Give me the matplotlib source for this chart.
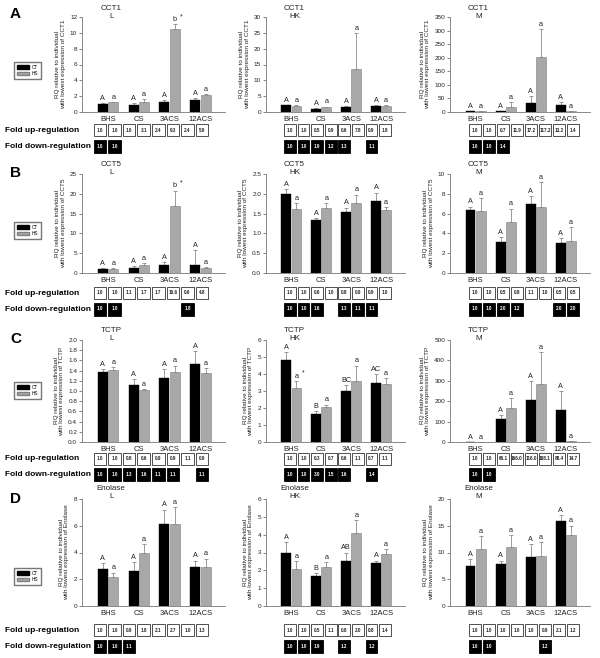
import matplotlib

matplotlib.use("Agg")
import matplotlib.pyplot as plt
import matplotlib.transforms as mtransforms
from matplotlib.patches import Patch, Rectangle
import numpy as np

plt.rcParams["font.family"] = ["Liberation Sans", "DejaVu Sans"]

W, H = 600, 658

GROUPS = ["BHS", "CS", "3ACS", "12ACS"]
GENES = ["CCT1", "CCT5", "TCTP", "Enolase"]
TISSUES = ["L", "HK", "M"]
ROW_LETTERS = ["A", "B", "C", "D"]

# ---- CCT1 ----
cct1_l_ct = [1.0, 0.9, 1.3, 1.5]
cct1_l_ct_err = [0.1, 0.25, 0.2, 0.25]
cct1_l_hs = [1.25, 1.3, 10.5, 2.2]
cct1_l_hs_err = [0.05, 0.3, 0.6, 0.1]
cct1_hk_ct = [2.2, 1.1, 1.6, 2.0]
cct1_hk_ct_err = [0.1, 0.1, 0.2, 0.2]
cct1_hk_hs = [1.9, 1.6, 13.5, 1.9]
cct1_hk_hs_err = [0.3, 0.1, 11.3, 0.2]
cct1_m_ct = [2, 3, 33, 25]
cct1_m_ct_err = [1, 2, 27, 13]
cct1_m_hs = [2, 20, 202, 2]
cct1_m_hs_err = [1, 17, 103, 1]

# ---- CCT5 ----
cct5_l_ct = [0.9, 1.3, 2.1, 1.9]
cct5_l_ct_err = [0.3, 0.5, 0.6, 3.8]
cct5_l_hs = [1.0, 2.0, 16.8, 1.2]
cct5_l_hs_err = [0.3, 0.6, 4.0, 0.2]
cct5_hk_ct = [2.0, 1.34, 1.55, 1.82]
cct5_hk_ct_err = [0.12, 0.05, 0.1, 0.21]
cct5_hk_hs = [1.62, 1.64, 1.76, 1.59]
cct5_hk_hs_err = [0.15, 0.12, 0.22, 0.08]
cct5_m_ct = [6.4, 3.1, 7.0, 3.05]
cct5_m_ct_err = [0.3, 0.5, 0.8, 0.45]
cct5_m_hs = [6.3, 5.2, 6.65, 3.25]
cct5_m_hs_err = [1.3, 1.3, 2.55, 1.35]

# ---- TCTP ----
tctp_l_ct = [1.38, 1.11, 1.25, 1.52]
tctp_l_ct_err = [0.05, 0.13, 0.18, 0.26]
tctp_l_hs = [1.41, 1.02, 1.38, 1.36]
tctp_l_hs_err = [0.06, 0.02, 0.12, 0.09]
tctp_hk_ct = [4.8, 1.65, 3.0, 3.45]
tctp_hk_ct_err = [0.5, 0.15, 0.35, 0.55]
tctp_hk_hs = [3.2, 2.05, 3.6, 3.4]
tctp_hk_hs_err = [0.4, 0.15, 0.9, 0.35]
tctp_m_ct = [1, 115, 205, 155]
tctp_m_ct_err = [0, 15, 95, 95]
tctp_m_hs = [1, 165, 285, 3]
tctp_m_hs_err = [0, 50, 155, 2]

# ---- Enolase ----
eno_l_ct = [2.8, 2.6, 6.1, 2.9]
eno_l_ct_err = [0.4, 0.7, 1.1, 0.5]
eno_l_hs = [2.2, 4.0, 6.1, 2.95]
eno_l_hs_err = [0.3, 0.6, 1.3, 0.6]
eno_hk_ct = [3.0, 1.7, 2.5, 2.4]
eno_hk_ct_err = [0.6, 0.15, 0.5, 0.15]
eno_hk_hs = [2.05, 2.2, 4.1, 2.9]
eno_hk_hs_err = [0.45, 0.25, 0.7, 0.3]
eno_m_ct = [7.5, 7.9, 9.2, 15.8]
eno_m_ct_err = [1.3, 0.6, 2.3, 1.2]
eno_m_hs = [10.7, 11.0, 9.3, 13.2]
eno_m_hs_err = [2.3, 2.2, 2.7, 1.8]

# y-axis limits / steps
y_max = [[12, 30, 350], [25, 2.5, 10], [2.0, 6, 500], [8, 6, 20]]
y_step = [[2, 5, 50], [5, 0.5, 2], [0.2, 1, 100], [2, 1, 5]]
y_decimals = [[0, 0, 0], [0, 1, 0], [1, 0, 0], [0, 0, 0]]

# significance letters (CT, HS)
AA = (["A"] * 4, ["a"] * 4)
letters = [
    [(["A"] * 4, ["a", "a", "b*", "a"]), AA, AA],
    [(["A"] * 4, ["a", "a", "b*", "a"]), AA, AA],
    [AA, (["A", "B", "BC", "AC"], ["a*", "a", "a", "a"]), AA],
    [AA, (["A", "B", "AB", "A"], ["a"] * 4), AA],
]

# fold change boxes (order: BHS CT, BHS HS, CS CT, CS HS, 3ACS CT, 3ACS HS, 12ACS CT, 12ACS HS)
fold_up = [
    [["1.0", "1.0", "1.0", "3.1", "2.4", "9.3", "2.4", "5.9"],
     ["1.0", "1.0", "0.5", "0.9", "0.6", "7.8", "0.9", "1.8"],
     ["1.0", "1.0", "0.7", "11.9", "17.2", "117.2", "13.2", "1.4"]],
    [["1.0", "1.0", "1.1", "1.7", "1.7", "10.6", "0.6", "4.8"],
     ["1.0", "1.0", "0.6", "1.0", "0.8", "0.9", "0.9", "1.0"],
     ["1.0", "1.0", "0.5", "0.8", "1.1", "1.0", "0.5", "0.5"]],
    [["1.0", "1.0", "0.8", "0.6", "0.9", "0.9", "1.1", "0.9"],
     ["1.0", "1.0", "0.3", "0.7", "0.6", "1.1", "0.7", "1.1"],
     ["1.0", "1.0", "66.1", "166.0", "116.0", "188.1", "88.4", "14.7"]],
    [["1.0", "1.0", "0.9", "1.8", "2.1", "2.7", "1.0", "1.3"],
     ["1.0", "1.0", "0.5", "1.1", "0.8", "2.0", "0.8", "1.4"],
     ["1.0", "1.0", "1.0", "1.0", "1.0", "0.9", "2.1", "1.2"]],
]
fold_down = [
    [["1.0", "1.0", "", "", "", "", "", ""],
     ["1.0", "1.0", "1.9", "1.2", "1.3", "", "1.1", ""],
     ["1.0", "1.0", "1.4", "", "", "", "", ""]],
    [["1.0", "1.0", "", "", "", "", "1.8", ""],
     ["1.0", "1.0", "1.6", "", "1.3", "1.1", "1.1", ""],
     ["1.0", "1.0", "2.0", "1.2", "", "", "2.0", "2.0"]],
    [["1.0", "1.0", "1.3", "1.6", "1.1", "1.1", "", "1.1"],
     ["1.0", "1.0", "3.0", "1.5", "1.6", "", "1.4", ""],
     ["1.0", "1.0", "", "", "", "", "", ""]],
    [["1.0", "1.0", "1.1", "", "", "", "", ""],
     ["1.0", "1.0", "1.9", "", "1.2", "", "1.2", ""],
     ["1.0", "1.0", "", "", "", "1.2", "", ""]],
]

BARS = [
    [(cct1_l_ct, cct1_l_ct_err, cct1_l_hs, cct1_l_hs_err),
     (cct1_hk_ct, cct1_hk_ct_err, cct1_hk_hs, cct1_hk_hs_err),
     (cct1_m_ct, cct1_m_ct_err, cct1_m_hs, cct1_m_hs_err)],
    [(cct5_l_ct, cct5_l_ct_err, cct5_l_hs, cct5_l_hs_err),
     (cct5_hk_ct, cct5_hk_ct_err, cct5_hk_hs, cct5_hk_hs_err),
     (cct5_m_ct, cct5_m_ct_err, cct5_m_hs, cct5_m_hs_err)],
    [(tctp_l_ct, tctp_l_ct_err, tctp_l_hs, tctp_l_hs_err),
     (tctp_hk_ct, tctp_hk_ct_err, tctp_hk_hs, tctp_hk_hs_err),
     (tctp_m_ct, tctp_m_ct_err, tctp_m_hs, tctp_m_hs_err)],
    [(eno_l_ct, eno_l_ct_err, eno_l_hs, eno_l_hs_err),
     (eno_hk_ct, eno_hk_ct_err, eno_hk_hs, eno_hk_hs_err),
     (eno_m_ct, eno_m_ct_err, eno_m_hs, eno_m_hs_err)],
]

# layout in pixels
ROW_TOP = [17, 174, 340, 499]
ROW_ZERO = [112, 273, 442, 606]
ROW_UP = [130, 293, 459, 630]
ROW_DOWN = [146, 309, 474, 646]
ROW_LEGEND = [60, 220, 380, 566]
ROW_LETTER_Y = [14, 173, 339, 499]
COL_LEFT = [82, 266, 450]
COL_RIGHT = [225, 405, 590]
BOX_SPAN = [(100, 202), (290, 385), (475, 573)]

GRAY = "#a8a8a8"


def px_rect(x0, y0, x1, y1):
    return [x0 / W, 1 - y1 / H, (x1 - x0) / W, (y1 - y0) / H]


def draw_panel(fig, r, c):
    ax = fig.add_axes(px_rect(COL_LEFT[c], ROW_TOP[r], COL_RIGHT[c], ROW_ZERO[r]))
    ct, ct_err, hs, hs_err = BARS[r][c]
    x = np.arange(len(GROUPS))
    off, w = 0.17, 0.33
    ax.bar(x - off, ct, w, color="black", edgecolor="black", linewidth=0.3, zorder=2)
    ax.bar(x + off, hs, w, color=GRAY, edgecolor="#808080", linewidth=0.4, zorder=2)
    zeros = np.zeros(len(x))
    for xs, vals, errs in ((x - off, ct, ct_err), (x + off, hs, hs_err)):
        ax.errorbar(xs, vals, yerr=[zeros, errs], fmt="none", ecolor="#8a8a8a",
                    elinewidth=0.6, capsize=1.4, capthick=0.6, zorder=1)

    ymax = y_max[r][c]
    pad = ymax * 0.012
    ct_let, hs_let = letters[r][c]
    for i in range(len(x)):
        for xs, top, lab in ((x[i] - off, ct[i] + ct_err[i], ct_let[i]),
                             (x[i] + off, hs[i] + hs_err[i], hs_let[i])):
            star = lab.endswith("*")
            lab = lab.rstrip("*")
            ax.text(xs, top + pad, lab, ha="center", va="bottom", fontsize=5.2, color="#222")
            if star:
                ax.text(xs + 0.22, top + pad + ymax * 0.03, "*", ha="center", va="bottom",
                        fontsize=5, color="#222")

    ax.set_xlim(-0.85, 3.8)
    ax.set_ylim(0, ymax)
    ticks = np.arange(0, ymax + y_step[r][c] / 2, y_step[r][c])
    ax.set_yticks(ticks)
    ax.set_yticklabels([f"{t:.{y_decimals[r][c]}f}" for t in ticks])
    ax.set_xticks(x)
    ax.set_xticklabels(GROUPS)
    ax.tick_params(axis="x", length=0, labelsize=5.5, pad=3, colors="#222")
    ax.tick_params(axis="y", length=2, width=0.5, labelsize=4.6, pad=1.5, colors="#555",
                   labelcolor="#222")
    for side in ("top", "right"):
        ax.spines[side].set_visible(False)
    for side in ("left", "bottom"):
        ax.spines[side].set_color("#777")
        ax.spines[side].set_linewidth(0.6)
    ax.set_ylabel(f"RQ relative to individual\nwith lowest expression of {GENES[r]}",
                  fontsize=4.6, labelpad=3, linespacing=1.1, color="#222")

    trans = mtransforms.blended_transform_factory(ax.transData, ax.transAxes)
    ax.text(0.1, 1.13, f"{GENES[r]}\n{TISSUES[c]}", transform=trans, ha="center", va="top",
            fontsize=5.8, linespacing=1.2, color="#222")


def draw_boxes(fig, r, c):
    bx0, bx1 = BOX_SPAN[c]
    pitch = (bx1 - bx0) / 7
    y0, y1 = ROW_UP[r] - 8, ROW_DOWN[r] + 8
    ax = fig.add_axes(px_rect(bx0 - pitch / 2, y0, bx1 + pitch / 2, y1))
    ax.set_xlim(-0.5, 7.5)
    ax.set_ylim(y1, y0)
    ax.axis("off")
    bw = 0.86
    for k, val in enumerate(fold_up[r][c]):
        ax.add_patch(Rectangle((k - bw / 2, ROW_UP[r] - 6), bw, 12, facecolor="white",
                               edgecolor="#333", linewidth=0.6))
        ax.text(k, ROW_UP[r], val, ha="center", va="center", fontsize=3.3,
                fontweight="bold", color="#222")
    for k, val in enumerate(fold_down[r][c]):
        if not val:
            continue
        ax.add_patch(Rectangle((k - bw / 2, ROW_DOWN[r] - 6.5), bw, 13, facecolor="black",
                               edgecolor="black", linewidth=0.6))
        ax.text(k, ROW_DOWN[r], val, ha="center", va="center", fontsize=3.3,
                fontweight="bold", color="white")


def main() -> None:
    fig = plt.figure(figsize=(W / 100, H / 100), dpi=100)
    handles = [Patch(facecolor="black", edgecolor="black", label="CT"),
               Patch(facecolor=GRAY, edgecolor="#808080", label="HS")]
    for r in range(4):
        for c in range(3):
            draw_panel(fig, r, c)
            draw_boxes(fig, r, c)
        fig.text(5 / W, 1 - ROW_UP[r] / H, "Fold up-regulation", fontsize=6.0,
                 fontweight="bold", va="center")
        fig.text(5 / W, 1 - ROW_DOWN[r] / H, "Fold down-regulation", fontsize=6.0,
                 fontweight="bold", va="center")
        fig.text(10 / W, 1 - ROW_LETTER_Y[r] / H, ROW_LETTERS[r], fontsize=11,
                 fontweight="bold", va="center")
        fig.legend(handles=handles, loc="upper left",
                   bbox_to_anchor=(12 / W, 1 - ROW_LEGEND[r] / H), fontsize=3.4,
                   frameon=True, fancybox=False, edgecolor="#777", framealpha=1,
                   handlelength=2.6, handleheight=0.9, borderpad=0.5, labelspacing=0.3,
                   handletextpad=0.6)
    fig.savefig("out.png", dpi=100)
    plt.close(fig)


if __name__ == "__main__":
    main()
